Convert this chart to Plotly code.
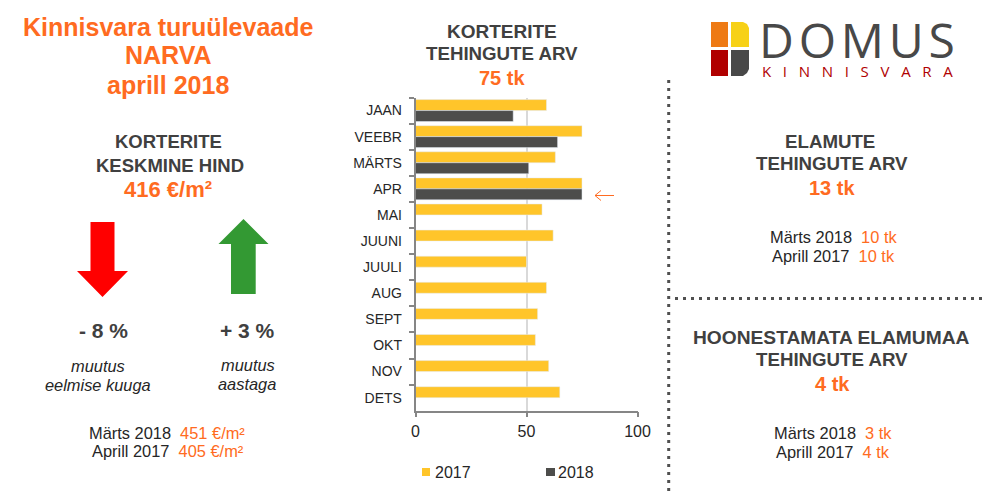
import plotly.graph_objects as go

W, H = 992, 491
months = ["JAAN", "VEEBR", "MÄRTS", "APR", "MAI", "JUUNI", "JUULI", "AUG", "SEPT", "OKT", "NOV", "DETS"]
deals_2017 = [59, 75, 63, 75, 57, 62, 50, 59, 55, 54, 60, 65]
deals_2018 = [44, 64, 51, 75, None, None, None, None, None, None, None, None]
series_names = ["2017", "2018"]

ORANGE = "#FF6B21"
DARK = "#262626"
HEAD = "#404040"
YELLOW = "#FFC52A"
GRAPHITE = "#4D4D4B"
FONT = "Liberation Sans"

def px(x): return x / W
def py(y): return 1 - y / H

fig = go.Figure()
fig.add_bar(name=series_names[0], y=months, x=deals_2017, orientation="h", marker_color=YELLOW)
fig.add_bar(name=series_names[1], y=months, x=deals_2018, orientation="h", marker_color=GRAPHITE)

texts = [
    ("Kinnisvara turuülevaade", 168, 27, 25, ORANGE, True),
    ("NARVA", 168, 55, 25, ORANGE, True),
    ("aprill 2018", 168, 85, 25, ORANGE, True),
    ("KORTERITE", 168, 142, 18.5, HEAD, True),
    ("KESKMINE HIND", 170, 165, 18.5, HEAD, True),
    ("416 €/m²", 168, 190, 22, ORANGE, True),
    ("- 8 %", 103, 330, 21, HEAD, True),
    ("+ 3 %", 247, 330, 21, HEAD, True),
    ("<i>muutus</i>", 97.7, 365.5, 16.4, DARK, False),
    ("<i>eelmise kuuga</i>", 97.5, 385, 16.4, DARK, False),
    ("<i>muutus</i>", 247.7, 365, 16.4, DARK, False),
    ("<i>aastaga</i>", 246.7, 383.5, 16.4, DARK, False),
    (f"Märts 2018  <span style='color:{ORANGE}'>451 €/m²</span>", 167, 433, 16.4, DARK, False),
    (f"Aprill 2017  <span style='color:{ORANGE}'>405 €/m²</span>", 167.5, 451, 16.4, DARK, False),
    ("KORTERITE", 502, 31, 19, HEAD, True),
    ("TEHINGUTE ARV", 502, 53, 18.7, HEAD, True),
    ("75 tk", 502, 78, 20, ORANGE, True),
    ("ELAMUTE", 830, 141.5, 18.7, HEAD, True),
    ("TEHINGUTE ARV", 832, 163, 18.7, HEAD, True),
    ("13 tk", 831.7, 187.5, 20, ORANGE, True),
    (f"Märts 2018  <span style='color:{ORANGE}'>10 tk</span>", 833, 237, 16.4, DARK, False),
    (f"Aprill 2017  <span style='color:{ORANGE}'>10 tk</span>", 833, 256, 16.4, DARK, False),
    ("HOONESTAMATA ELAMUMAA", 831.5, 337, 19.2, HEAD, True),
    ("TEHINGUTE ARV", 832, 359, 18.7, HEAD, True),
    ("4 tk", 832, 384, 20, ORANGE, True),
    (f"Märts 2018  <span style='color:{ORANGE}'>3 tk</span>", 833, 433, 16.4, DARK, False),
    (f"Aprill 2017  <span style='color:{ORANGE}'>4 tk</span>", 833, 452, 16.4, DARK, False),
]
annotations = []
for t, x, y, size, col, bold in texts:
    annotations.append(dict(text=f"<b>{t}</b>" if bold else t, x=px(x), y=py(y), xref="paper", yref="paper",
                            showarrow=False, xanchor="center", yanchor="middle",
                            font=dict(family=FONT, size=size, color=col)))

# logo lettering
annotations.append(dict(text="\u200a".join("DOMUS"), x=px(857), y=py(40), xref="paper", yref="paper", showarrow=False,
                        xanchor="center", yanchor="middle", font=dict(family="Open Sans", size=48, color="#484848")))
annotations.append(dict(text="\u00a0\u00a0\u00a0".join("KINNISVARA"), x=px(857), y=py(71), xref="paper", yref="paper",
                        showarrow=False, xanchor="center", yanchor="middle",
                        font=dict(family="Open Sans", size=15, color="#B00000")))

# legend row
for name, x in zip(series_names, [433, 556]):
    annotations.append(dict(text=name, x=px(x), y=py(472), xref="paper", yref="paper", showarrow=False,
                            xanchor="left", yanchor="middle", font=dict(family=FONT, size=16, color=DARK)))

def poly(points, fill):
    d = "M" + " L".join(f"{px(x)},{py(y)}" for x, y in points) + " Z"
    return dict(type="path", path=d, xref="paper", yref="paper", fillcolor=fill, line=dict(width=0))

def rect(x0, y0, x1, y1, fill):
    return dict(type="rect", x0=px(x0), x1=px(x1), y0=py(y0), y1=py(y1), xref="paper", yref="paper",
                fillcolor=fill, line=dict(width=0))

def line(x0, y0, x1, y1, col, width, dash="solid"):
    return dict(type="line", x0=px(x0), x1=px(x1), y0=py(y0), y1=py(y1), xref="paper", yref="paper",
                line=dict(color=col, width=width, dash=dash))

shapes = [
    poly([(90.5, 222), (114.5, 222), (114.5, 271), (128, 271), (102.5, 297), (77, 271), (90.5, 271)], "#FF0000"),
    poly([(231, 294), (255.7, 294), (255.7, 244), (268.5, 244), (243.5, 219), (218.5, 244), (231, 244)], "#339933"),
    rect(711, 22, 728, 47, "#EE7A14"),
    poly([(731, 22), (743, 22), (747, 24), (749, 28), (749, 47), (731, 47)], "#F7D117"),
    rect(711, 50, 728, 76, "#B00000"),
    poly([(731, 50), (749, 50), (749, 69), (747, 73), (743, 76), (731, 76)], "#484848"),
    line(668.7, 80, 668.7, 491, "#505050", 3, "3px,5px"),
    line(675, 298.5, 985, 298.5, "#505050", 3, "3px,5px"),
    line(595, 195.5, 614, 195.5, ORANGE, 1),
    line(595, 195.5, 601, 190.5, ORANGE, 1),
    line(595, 195.5, 601, 200.5, ORANGE, 1),
    rect(422, 468, 430, 476, YELLOW),
    rect(546, 468, 555, 476, GRAPHITE),
]

fig.update_layout(
    width=W, height=H, autosize=False, margin=dict(l=0, r=0, t=0, b=0, autoexpand=False),
    paper_bgcolor="white", plot_bgcolor="white",
    font=dict(family=FONT, color=DARK),
    barmode="group", bargap=0.16, bargroupgap=0, showlegend=False,
    annotations=annotations, shapes=shapes,
    xaxis=dict(domain=[px(415.5), px(638.4)], range=[0, 100.4], dtick=50, showgrid=True, gridcolor="#D9D9D9", gridwidth=1.5,
               ticks="outside", ticklen=5, tickcolor="#868686", tickwidth=1.5, showline=True, linecolor="#868686",
               linewidth=1.5, zeroline=False, tickfont=dict(family=FONT, size=16, color=DARK), anchor="y"),
    yaxis=dict(domain=[py(410.7), py(97.5)], autorange="reversed", type="category", tickson="boundaries",
               ticks="outside", ticklen=5, tickcolor="#868686", tickwidth=1.5, showline=True, linecolor="#868686",
               linewidth=1.5, showgrid=False, ticklabelstandoff=9, tickfont=dict(family=FONT, size=14, color=DARK), anchor="x"),
)

fig.write_html("out.html", post_script="document.body.style.margin='0';", config={"displayModeBar": False})
